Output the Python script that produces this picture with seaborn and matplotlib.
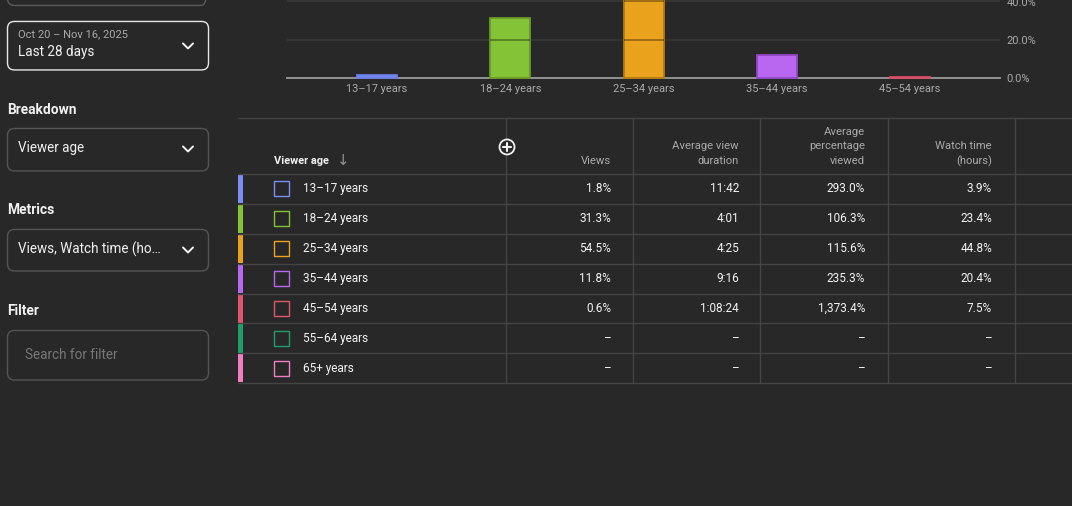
import matplotlib
matplotlib.use("Agg")
import matplotlib.pyplot as plt
from matplotlib.patches import FancyBboxPatch, Rectangle, Circle
import seaborn as sns
import pandas as pd

# ---------------- data ----------------
age_groups = ["13–17 years", "18–24 years", "25–34 years", "35–44 years",
              "45–54 years", "55–64 years", "65+ years"]
views_pct = [1.8, 31.3, 54.5, 11.8, 0.6, None, None]
avg_view_duration = ["11:42", "4:01", "4:25", "9:16", "1:08:24", None, None]
avg_pct_viewed = [293.0, 106.3, 115.6, 235.3, 1373.4, None, None]
watch_time_pct = [3.9, 23.4, 44.8, 20.4, 7.5, None, None]
age_colors = ["#7b8ef5", "#84c236", "#eaa11b", "#b966f0", "#e0566c", "#1f9e6a", "#f07ec0"]
age_edges = ["#6a7de6", "#689a28", "#b57a10", "#9046c4", "#d84c64", "#177a52", "#c25f98"]
y_ticks = [0, 20, 40]
col_headers = [["Views"], ["Average view", "duration"], ["Average", "percentage", "viewed"],
               ["Watch time", "(hours)"]]

BG = "#282828"
W, H = 1072, 506

sns.set_style("dark")
plt.rcParams["font.family"] = ["Roboto", "DejaVu Sans"]

fig = plt.figure(figsize=(W / 100 + 0.0005, H / 100 + 0.0005), dpi=100, facecolor=BG)

# ---------------- UI layer (pixel coordinates) ----------------
ui = fig.add_axes([0, 0, 1, 1])
ui.set_xlim(0, W)
ui.set_ylim(H, 0)
ui.axis("off")
ui.set_facecolor(BG)


def px(v):
    return v * 0.72  # px -> pt at 100 dpi


def box(y0, y1, edge):
    ui.add_patch(FancyBboxPatch((7.5, y0), 201, y1 - y0,
                                boxstyle="round,pad=0,rounding_size=7",
                                facecolor="none", edgecolor=edge, lw=1.0))


def chevron(cx, cy):
    ui.plot([cx - 5, cx, cx + 5], [cy - 2.5, cy + 2.5, cy - 2.5], color="#f1f1f1", lw=1.4,
            solid_capstyle="round", solid_joinstyle="round")


# left panel
box(-40, 5.5, "#5a5a5a")
box(21.5, 70, "#e6e6e6")
ui.text(18, 34, "Oct 20 – Nov 16, 2025", fontsize=px(11.1), color="#aaaaaa", va="center")
ui.text(18, 52, "Last 28 days", fontsize=px(13.5), color="#f1f1f1", va="center")
chevron(188, 46)

ui.text(7, 110, "Breakdown", fontsize=px(13.7), color="#f1f1f1", va="center", fontweight="bold")
box(128.5, 171, "#555555")
ui.text(18, 148, "Viewer age", fontsize=px(13.5), color="#f1f1f1", va="center")
chevron(188, 149)

ui.text(7, 210, "Metrics", fontsize=px(13.7), color="#f1f1f1", va="center", fontweight="bold")
box(229.5, 271, "#555555")
ui.text(18, 249, "Views, Watch time (ho…", fontsize=px(13.5), color="#f1f1f1", va="center")
chevron(188, 250)

ui.text(7, 311, "Filter", fontsize=px(13.7), color="#f1f1f1", va="center", fontweight="bold")
box(330.5, 380, "#555555")
ui.text(25, 355, "Search for filter", fontsize=px(13.5), color="#777777", va="center")

# table
LINE = "#444444"
row_top0 = 174
row_h = 29.9
n_rows = len(age_groups)
table_bottom = row_top0 + n_rows * row_h
col_lines = [506, 633, 760, 888, 1015]
col_right = [611, 739, 865, 992]

ui.hlines([118, row_top0] + [row_top0 + (i + 1) * row_h for i in range(n_rows)],
          238, W, colors=LINE, lw=1)
ui.vlines(col_lines, 118, table_bottom, colors=LINE, lw=1)

ui.text(274, 161, "Viewer age", fontsize=px(11), color="#f1f1f1", va="center", fontweight="bold")
ui.text(343, 161, "↓", fontsize=px(15), color="#909090", va="center", ha="center")

header_ys = {1: [161], 2: [146, 161], 3: [131.5, 146, 161]}
for xr, lines in zip(col_right, col_headers):
    for y, t in zip(header_ys[len(lines)], lines):
        ui.text(xr, y, t, fontsize=px(11.2), color="#aaaaaa", va="center", ha="right")

# circle plus icon
ui.add_patch(Circle((507, 147), 7.5, facecolor=BG, edgecolor="#f1f1f1", lw=1.3, zorder=5))
ui.plot([503, 511], [147, 147], color="#f1f1f1", lw=1.5, zorder=6)
ui.plot([507, 507], [143, 151], color="#f1f1f1", lw=1.5, zorder=6)


def fmt_pct(v):
    return "–" if v is None else f"{v:,.1f}%"


for i, name in enumerate(age_groups):
    top = row_top0 + i * row_h
    cy = top + row_h / 2
    ui.add_patch(Rectangle((238, top + 0.8), 4.5, row_h - 1.6, facecolor=age_colors[i],
                           edgecolor="none"))
    ui.add_patch(Rectangle((273.5, cy - 7.5), 15, 15, facecolor="none",
                           edgecolor=age_colors[i], lw=1.0))
    ui.text(303, cy, name, fontsize=px(11.8), color="#f4f4f4", va="center")
    vals = [fmt_pct(views_pct[i]),
            avg_view_duration[i] if avg_view_duration[i] else "–",
            fmt_pct(avg_pct_viewed[i]),
            fmt_pct(watch_time_pct[i])]
    for xr, t in zip(col_right, vals):
        ui.text(xr, cy, t, fontsize=px(11.8), color="#f4f4f4", va="center", ha="right")

# ---------------- bar chart (seaborn) ----------------
ax_left, ax_right, ax_base = 287, 1000, 78
ax = fig.add_axes([ax_left / W, (H - ax_base) / H, (ax_right - ax_left) / W, ax_base / H])
ax.set_facecolor("none")

n_chart = sum(v is not None for v in views_pct)
df = pd.DataFrame({"age": age_groups[:n_chart], "views": views_pct[:n_chart]})
sns.barplot(data=df, x="age", y="views", hue="age", palette=age_colors[:n_chart],
            width=0.3, legend=False, ax=ax, saturation=1, linewidth=1.3)
for p, ec in zip(ax.patches, age_edges):
    p.set_edgecolor(ec)
    p.set_zorder(4)
    p.set_clip_on(False)

ax.set_xlim(-0.675, n_chart - 1 + 0.675)
ax.set_ylim(0, (ax_base - 0.5) / 1.9)
ax.set_yticks(y_ticks)
ax.set_yticklabels([f"{t:.1f}%" for t in y_ticks])
ax.yaxis.tick_right()
ax.grid(False)
ax.yaxis.grid(True, color="#383838", lw=1.2)
ax.set_axisbelow(True)
for g in y_ticks[1:]:
    for p in ax.patches:
        if p.get_height() > g:
            ax.hlines(g, p.get_x(), p.get_x() + p.get_width(), colors="black",
                      alpha=0.35, lw=1.3, zorder=5)
ax.tick_params(axis="both", length=0, labelsize=px(11), labelcolor="#aaaaaa")
ax.tick_params(axis="y", pad=4.5)
ax.tick_params(axis="x", pad=4)
ax.set_xlabel("")
ax.set_ylabel("")
for s in ["top", "left", "right"]:
    ax.spines[s].set_visible(False)
ax.spines["bottom"].set_color("#9a9a9a")
ax.spines["bottom"].set_linewidth(1.3)
ax.spines["bottom"].set_zorder(3)

fig.savefig("out.png", dpi=100, facecolor=BG)
